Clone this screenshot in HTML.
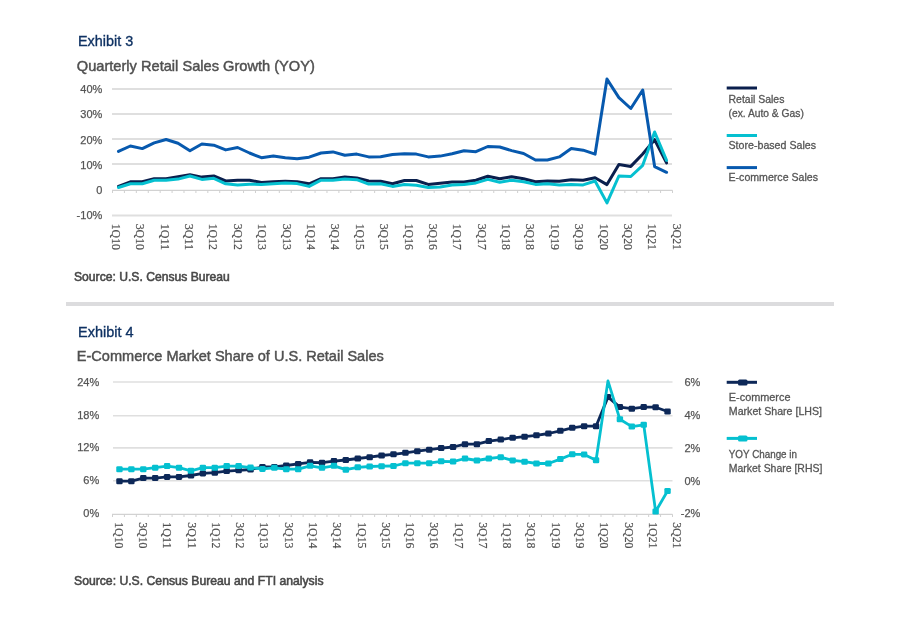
<!DOCTYPE html>
<html><head><meta charset="utf-8"><style>
html,body{margin:0;padding:0;background:#fff;width:900px;height:624px;overflow:hidden}
svg{display:block;will-change:transform}
text{font-family:"Liberation Sans",sans-serif}
.ax{font-size:11px;fill:#555;stroke:#555;stroke-width:0.25px}
.xl{font-family:"Liberation Serif",serif;font-size:12.3px;fill:#505050;stroke:#505050;stroke-width:0.2px}
.ex{font-size:15.3px;fill:#0f3263;stroke:#0f3263;stroke-width:0.35px}
.sub{font-size:14.5px;fill:#505050;stroke:#505050;stroke-width:0.45px}
.src{font-size:12px;fill:#484848;stroke:#484848;stroke-width:0.55px}
.lg{font-size:11px;fill:#555;stroke:#555;stroke-width:0.3px}
</style></head><body>
<svg width="900" height="624" viewBox="0 0 900 624">
<line x1="112" y1="89.00" x2="672" y2="89.00" stroke="#dfdfdf" stroke-width="2"/>
<line x1="112" y1="114.00" x2="672" y2="114.00" stroke="#dfdfdf" stroke-width="2"/>
<line x1="112" y1="139.00" x2="672" y2="139.00" stroke="#dfdfdf" stroke-width="2"/>
<line x1="112" y1="164.00" x2="672" y2="164.00" stroke="#dfdfdf" stroke-width="2"/>
<line x1="112" y1="215.50" x2="672" y2="215.50" stroke="#dfdfdf" stroke-width="2"/>
<line x1="112" y1="190.4" x2="672.5" y2="190.4" stroke="#d2d2d2" stroke-width="1.3"/>
<path d="M112.50 190.3v2.7 M124.41 190.3v2.7 M136.33 190.3v2.7 M148.25 190.3v2.7 M160.16 190.3v2.7 M172.07 190.3v2.7 M183.99 190.3v2.7 M195.91 190.3v2.7 M207.82 190.3v2.7 M219.73 190.3v2.7 M231.65 190.3v2.7 M243.56 190.3v2.7 M255.48 190.3v2.7 M267.39 190.3v2.7 M279.31 190.3v2.7 M291.23 190.3v2.7 M303.14 190.3v2.7 M315.05 190.3v2.7 M326.97 190.3v2.7 M338.88 190.3v2.7 M350.80 190.3v2.7 M362.71 190.3v2.7 M374.63 190.3v2.7 M386.54 190.3v2.7 M398.46 190.3v2.7 M410.38 190.3v2.7 M422.29 190.3v2.7 M434.20 190.3v2.7 M446.12 190.3v2.7 M458.03 190.3v2.7 M469.95 190.3v2.7 M481.86 190.3v2.7 M493.78 190.3v2.7 M505.69 190.3v2.7 M517.61 190.3v2.7 M529.52 190.3v2.7 M541.44 190.3v2.7 M553.36 190.3v2.7 M565.27 190.3v2.7 M577.18 190.3v2.7 M589.10 190.3v2.7 M601.01 190.3v2.7 M612.93 190.3v2.7 M624.84 190.3v2.7 M636.76 190.3v2.7 M648.67 190.3v2.7 M660.59 190.3v2.7 M672.50 190.3v2.7" stroke="#d0d0d0" stroke-width="1" fill="none"/>
<text x="102.3" y="92.90" text-anchor="end" class="ax">40%</text>
<text x="102.3" y="118.20" text-anchor="end" class="ax">30%</text>
<text x="102.3" y="143.50" text-anchor="end" class="ax">20%</text>
<text x="102.3" y="168.80" text-anchor="end" class="ax">10%</text>
<text x="102.3" y="194.10" text-anchor="end" class="ax">0</text>
<text x="102.3" y="219.40" text-anchor="end" class="ax">-10%</text>
<polyline points="118.46,186.40 130.37,181.80 142.29,181.80 154.20,178.70 166.12,178.70 178.03,176.80 189.95,174.80 201.86,177.10 213.78,176.00 225.69,181.00 237.61,180.20 249.52,180.20 261.44,182.50 273.35,181.80 285.27,181.30 297.18,181.80 309.10,183.80 321.01,178.70 332.93,178.70 344.84,177.10 356.76,177.90 368.67,181.00 380.59,181.20 392.50,183.80 404.42,180.50 416.33,180.50 428.25,184.40 440.16,183.30 452.08,182.10 463.99,182.10 475.91,180.20 487.82,176.30 499.74,178.70 511.65,176.80 523.57,178.70 535.48,181.80 547.40,181.00 559.31,181.30 571.23,179.70 583.14,180.20 595.06,177.80 606.97,184.60 618.89,164.60 630.80,166.40 642.72,154.00 654.63,139.70 666.55,162.90" fill="none" stroke="#0a1f4d" stroke-width="3" stroke-linejoin="round" stroke-linecap="round"/>
<polyline points="118.46,187.50 130.37,183.80 142.29,183.80 154.20,180.20 166.12,180.20 178.03,179.10 189.95,176.00 201.86,179.40 213.78,178.30 225.69,183.80 237.61,184.90 249.52,184.30 261.44,184.40 273.35,183.80 285.27,183.00 297.18,183.60 309.10,186.40 321.01,180.20 332.93,180.20 344.84,179.10 356.76,179.70 368.67,184.10 380.59,183.80 392.50,186.40 404.42,184.60 416.33,185.20 428.25,187.50 440.16,186.90 452.08,184.90 463.99,184.60 475.91,182.90 487.82,179.40 499.74,182.20 511.65,180.20 523.57,181.80 535.48,184.40 547.40,183.80 559.31,184.90 571.23,184.40 583.14,184.90 595.06,181.00 606.97,202.90 618.89,176.00 630.80,176.50 642.72,165.30 654.63,132.00 666.55,160.30" fill="none" stroke="#05c0d0" stroke-width="3" stroke-linejoin="round" stroke-linecap="round"/>
<polyline points="118.46,151.40 130.37,146.00 142.29,148.60 154.20,142.90 166.12,139.50 178.03,143.20 189.95,150.70 201.86,144.00 213.78,145.20 225.69,149.90 237.61,147.50 249.52,153.00 261.44,157.70 273.35,156.10 285.27,157.70 297.18,158.70 309.10,157.20 321.01,153.00 332.93,151.90 344.84,155.30 356.76,154.10 368.67,156.90 380.59,156.70 392.50,154.50 404.42,153.80 416.33,154.10 428.25,156.90 440.16,156.10 452.08,153.80 463.99,150.70 475.91,151.70 487.82,146.50 499.74,147.00 511.65,150.60 523.57,153.50 535.48,160.00 547.40,160.00 559.31,156.90 571.23,148.60 583.14,150.20 595.06,154.20 606.97,79.10 618.89,97.60 630.80,108.50 642.72,90.00 654.63,166.60 666.55,172.30" fill="none" stroke="#0759ae" stroke-width="3" stroke-linejoin="round" stroke-linecap="round"/>
<text transform="translate(111.80,223.7) rotate(90)" class="xl" textLength="26.3" lengthAdjust="spacingAndGlyphs">1Q10</text>
<text transform="translate(136.19,223.7) rotate(90)" class="xl" textLength="26.3" lengthAdjust="spacingAndGlyphs">3Q10</text>
<text transform="translate(160.58,223.7) rotate(90)" class="xl" textLength="26.3" lengthAdjust="spacingAndGlyphs">1Q11</text>
<text transform="translate(184.98,223.7) rotate(90)" class="xl" textLength="26.3" lengthAdjust="spacingAndGlyphs">3Q11</text>
<text transform="translate(209.37,223.7) rotate(90)" class="xl" textLength="26.3" lengthAdjust="spacingAndGlyphs">1Q12</text>
<text transform="translate(233.76,223.7) rotate(90)" class="xl" textLength="26.3" lengthAdjust="spacingAndGlyphs">3Q12</text>
<text transform="translate(258.15,223.7) rotate(90)" class="xl" textLength="26.3" lengthAdjust="spacingAndGlyphs">1Q13</text>
<text transform="translate(282.54,223.7) rotate(90)" class="xl" textLength="26.3" lengthAdjust="spacingAndGlyphs">3Q13</text>
<text transform="translate(306.94,223.7) rotate(90)" class="xl" textLength="26.3" lengthAdjust="spacingAndGlyphs">1Q14</text>
<text transform="translate(331.33,223.7) rotate(90)" class="xl" textLength="26.3" lengthAdjust="spacingAndGlyphs">3Q14</text>
<text transform="translate(355.72,223.7) rotate(90)" class="xl" textLength="26.3" lengthAdjust="spacingAndGlyphs">1Q15</text>
<text transform="translate(380.11,223.7) rotate(90)" class="xl" textLength="26.3" lengthAdjust="spacingAndGlyphs">3Q15</text>
<text transform="translate(404.50,223.7) rotate(90)" class="xl" textLength="26.3" lengthAdjust="spacingAndGlyphs">1Q16</text>
<text transform="translate(428.90,223.7) rotate(90)" class="xl" textLength="26.3" lengthAdjust="spacingAndGlyphs">3Q16</text>
<text transform="translate(453.29,223.7) rotate(90)" class="xl" textLength="26.3" lengthAdjust="spacingAndGlyphs">1Q17</text>
<text transform="translate(477.68,223.7) rotate(90)" class="xl" textLength="26.3" lengthAdjust="spacingAndGlyphs">3Q17</text>
<text transform="translate(502.07,223.7) rotate(90)" class="xl" textLength="26.3" lengthAdjust="spacingAndGlyphs">1Q18</text>
<text transform="translate(526.46,223.7) rotate(90)" class="xl" textLength="26.3" lengthAdjust="spacingAndGlyphs">3Q18</text>
<text transform="translate(550.86,223.7) rotate(90)" class="xl" textLength="26.3" lengthAdjust="spacingAndGlyphs">1Q19</text>
<text transform="translate(575.25,223.7) rotate(90)" class="xl" textLength="26.3" lengthAdjust="spacingAndGlyphs">3Q19</text>
<text transform="translate(599.64,223.7) rotate(90)" class="xl" textLength="26.3" lengthAdjust="spacingAndGlyphs">1Q20</text>
<text transform="translate(624.03,223.7) rotate(90)" class="xl" textLength="26.3" lengthAdjust="spacingAndGlyphs">3Q20</text>
<text transform="translate(648.42,223.7) rotate(90)" class="xl" textLength="26.3" lengthAdjust="spacingAndGlyphs">1Q21</text>
<text transform="translate(672.82,223.7) rotate(90)" class="xl" textLength="26.3" lengthAdjust="spacingAndGlyphs">3Q21</text>
<line x1="113" y1="382.00" x2="672.5" y2="382.00" stroke="#dfdfdf" stroke-width="1.6"/>
<line x1="113" y1="415.80" x2="672.5" y2="415.80" stroke="#dfdfdf" stroke-width="1.6"/>
<line x1="113" y1="447.90" x2="672.5" y2="447.90" stroke="#dfdfdf" stroke-width="1.6"/>
<line x1="113" y1="480.70" x2="672.5" y2="480.70" stroke="#dfdfdf" stroke-width="1.6"/>
<line x1="112" y1="514.4" x2="672.5" y2="514.4" stroke="#d2d2d2" stroke-width="1.3"/>
<path d="M112.50 514.3v2.7 M124.41 514.3v2.7 M136.33 514.3v2.7 M148.25 514.3v2.7 M160.16 514.3v2.7 M172.07 514.3v2.7 M183.99 514.3v2.7 M195.91 514.3v2.7 M207.82 514.3v2.7 M219.73 514.3v2.7 M231.65 514.3v2.7 M243.56 514.3v2.7 M255.48 514.3v2.7 M267.39 514.3v2.7 M279.31 514.3v2.7 M291.23 514.3v2.7 M303.14 514.3v2.7 M315.05 514.3v2.7 M326.97 514.3v2.7 M338.88 514.3v2.7 M350.80 514.3v2.7 M362.71 514.3v2.7 M374.63 514.3v2.7 M386.54 514.3v2.7 M398.46 514.3v2.7 M410.38 514.3v2.7 M422.29 514.3v2.7 M434.20 514.3v2.7 M446.12 514.3v2.7 M458.03 514.3v2.7 M469.95 514.3v2.7 M481.86 514.3v2.7 M493.78 514.3v2.7 M505.69 514.3v2.7 M517.61 514.3v2.7 M529.52 514.3v2.7 M541.44 514.3v2.7 M553.36 514.3v2.7 M565.27 514.3v2.7 M577.18 514.3v2.7 M589.10 514.3v2.7 M601.01 514.3v2.7 M612.93 514.3v2.7 M624.84 514.3v2.7 M636.76 514.3v2.7 M648.67 514.3v2.7 M660.59 514.3v2.7 M672.50 514.3v2.7" stroke="#d0d0d0" stroke-width="1" fill="none"/>
<text x="99.2" y="386.00" text-anchor="end" class="ax">24%</text>
<text x="99.2" y="419.20" text-anchor="end" class="ax">18%</text>
<text x="99.2" y="451.30" text-anchor="end" class="ax">12%</text>
<text x="99.2" y="484.30" text-anchor="end" class="ax">6%</text>
<text x="99.2" y="517.40" text-anchor="end" class="ax">0%</text>
<text x="700.3" y="386.00" text-anchor="end" class="ax">6%</text>
<text x="700.3" y="419.20" text-anchor="end" class="ax">4%</text>
<text x="700.3" y="451.50" text-anchor="end" class="ax">2%</text>
<text x="700.3" y="484.50" text-anchor="end" class="ax">0%</text>
<text x="700.3" y="517.30" text-anchor="end" class="ax">-2%</text>
<polyline points="119.46,481.20 131.37,481.20 143.29,478.10 155.20,478.10 167.12,476.90 179.03,476.90 190.95,475.50 202.86,473.40 214.78,472.70 226.69,471.10 238.61,470.30 250.52,469.50 262.44,467.00 274.35,467.00 286.27,465.50 298.18,463.90 310.10,462.30 322.01,462.70 333.93,461.10 345.84,460.00 357.76,458.50 369.67,457.20 381.59,455.50 393.50,454.30 405.42,452.80 417.33,451.20 429.25,449.70 441.16,448.10 453.08,447.00 464.99,444.20 476.91,444.20 488.82,441.10 500.74,439.60 512.65,437.80 524.57,436.70 536.48,435.30 548.40,433.50 560.31,430.80 572.23,427.80 584.14,426.20 596.06,426.20 607.97,397.10 619.89,407.10 631.80,408.70 643.72,407.10 655.63,407.20 667.55,411.50" fill="none" stroke="#0d2858" stroke-width="2.8" stroke-linejoin="round"/>
<rect x="116.26" y="478.20" width="6.4" height="6" rx="1.3" fill="#0d2858"/><rect x="128.17" y="478.20" width="6.4" height="6" rx="1.3" fill="#0d2858"/><rect x="140.09" y="475.10" width="6.4" height="6" rx="1.3" fill="#0d2858"/><rect x="152.00" y="475.10" width="6.4" height="6" rx="1.3" fill="#0d2858"/><rect x="163.92" y="473.90" width="6.4" height="6" rx="1.3" fill="#0d2858"/><rect x="175.83" y="473.90" width="6.4" height="6" rx="1.3" fill="#0d2858"/><rect x="187.75" y="472.50" width="6.4" height="6" rx="1.3" fill="#0d2858"/><rect x="199.66" y="470.40" width="6.4" height="6" rx="1.3" fill="#0d2858"/><rect x="211.58" y="469.70" width="6.4" height="6" rx="1.3" fill="#0d2858"/><rect x="223.49" y="468.10" width="6.4" height="6" rx="1.3" fill="#0d2858"/><rect x="235.41" y="467.30" width="6.4" height="6" rx="1.3" fill="#0d2858"/><rect x="247.32" y="466.50" width="6.4" height="6" rx="1.3" fill="#0d2858"/><rect x="259.24" y="464.00" width="6.4" height="6" rx="1.3" fill="#0d2858"/><rect x="271.15" y="464.00" width="6.4" height="6" rx="1.3" fill="#0d2858"/><rect x="283.07" y="462.50" width="6.4" height="6" rx="1.3" fill="#0d2858"/><rect x="294.98" y="460.90" width="6.4" height="6" rx="1.3" fill="#0d2858"/><rect x="306.90" y="459.30" width="6.4" height="6" rx="1.3" fill="#0d2858"/><rect x="318.81" y="459.70" width="6.4" height="6" rx="1.3" fill="#0d2858"/><rect x="330.73" y="458.10" width="6.4" height="6" rx="1.3" fill="#0d2858"/><rect x="342.64" y="457.00" width="6.4" height="6" rx="1.3" fill="#0d2858"/><rect x="354.56" y="455.50" width="6.4" height="6" rx="1.3" fill="#0d2858"/><rect x="366.47" y="454.20" width="6.4" height="6" rx="1.3" fill="#0d2858"/><rect x="378.39" y="452.50" width="6.4" height="6" rx="1.3" fill="#0d2858"/><rect x="390.30" y="451.30" width="6.4" height="6" rx="1.3" fill="#0d2858"/><rect x="402.22" y="449.80" width="6.4" height="6" rx="1.3" fill="#0d2858"/><rect x="414.13" y="448.20" width="6.4" height="6" rx="1.3" fill="#0d2858"/><rect x="426.05" y="446.70" width="6.4" height="6" rx="1.3" fill="#0d2858"/><rect x="437.96" y="445.10" width="6.4" height="6" rx="1.3" fill="#0d2858"/><rect x="449.88" y="444.00" width="6.4" height="6" rx="1.3" fill="#0d2858"/><rect x="461.79" y="441.20" width="6.4" height="6" rx="1.3" fill="#0d2858"/><rect x="473.71" y="441.20" width="6.4" height="6" rx="1.3" fill="#0d2858"/><rect x="485.62" y="438.10" width="6.4" height="6" rx="1.3" fill="#0d2858"/><rect x="497.54" y="436.60" width="6.4" height="6" rx="1.3" fill="#0d2858"/><rect x="509.45" y="434.80" width="6.4" height="6" rx="1.3" fill="#0d2858"/><rect x="521.37" y="433.70" width="6.4" height="6" rx="1.3" fill="#0d2858"/><rect x="533.28" y="432.30" width="6.4" height="6" rx="1.3" fill="#0d2858"/><rect x="545.20" y="430.50" width="6.4" height="6" rx="1.3" fill="#0d2858"/><rect x="557.11" y="427.80" width="6.4" height="6" rx="1.3" fill="#0d2858"/><rect x="569.03" y="424.80" width="6.4" height="6" rx="1.3" fill="#0d2858"/><rect x="580.94" y="423.20" width="6.4" height="6" rx="1.3" fill="#0d2858"/><rect x="592.86" y="423.20" width="6.4" height="6" rx="1.3" fill="#0d2858"/><rect x="604.77" y="394.10" width="6.4" height="6" rx="1.3" fill="#0d2858"/><rect x="616.69" y="404.10" width="6.4" height="6" rx="1.3" fill="#0d2858"/><rect x="628.60" y="405.70" width="6.4" height="6" rx="1.3" fill="#0d2858"/><rect x="640.52" y="404.10" width="6.4" height="6" rx="1.3" fill="#0d2858"/><rect x="652.43" y="404.20" width="6.4" height="6" rx="1.3" fill="#0d2858"/><rect x="664.35" y="408.50" width="6.4" height="6" rx="1.3" fill="#0d2858"/>
<polyline points="119.46,469.20 131.37,469.20 143.29,469.20 155.20,467.70 167.12,466.10 179.03,467.70 190.95,470.80 202.86,467.70 214.78,467.70 226.69,466.10 238.61,466.10 250.52,467.60 262.44,468.90 274.35,467.80 286.27,469.20 298.18,469.20 310.10,465.80 322.01,467.80 333.93,465.80 345.84,469.70 357.76,467.30 369.67,466.50 381.59,466.20 393.50,466.00 405.42,463.20 417.33,463.20 429.25,463.20 441.16,461.30 453.08,461.60 464.99,458.50 476.91,460.50 488.82,458.50 500.74,457.20 512.65,460.40 524.57,461.70 536.48,463.50 548.40,463.50 560.31,459.10 572.23,454.30 584.14,454.40 596.06,460.30 607.97,380.90 619.89,419.30 631.80,426.60 643.72,424.80 655.63,511.50 667.55,491.00" fill="none" stroke="#05c0d0" stroke-width="2.8" stroke-linejoin="round"/>
<rect x="116.26" y="466.20" width="6.4" height="6" rx="1.3" fill="#05c0d0"/><rect x="128.17" y="466.20" width="6.4" height="6" rx="1.3" fill="#05c0d0"/><rect x="140.09" y="466.20" width="6.4" height="6" rx="1.3" fill="#05c0d0"/><rect x="152.00" y="464.70" width="6.4" height="6" rx="1.3" fill="#05c0d0"/><rect x="163.92" y="463.10" width="6.4" height="6" rx="1.3" fill="#05c0d0"/><rect x="175.83" y="464.70" width="6.4" height="6" rx="1.3" fill="#05c0d0"/><rect x="187.75" y="467.80" width="6.4" height="6" rx="1.3" fill="#05c0d0"/><rect x="199.66" y="464.70" width="6.4" height="6" rx="1.3" fill="#05c0d0"/><rect x="211.58" y="464.70" width="6.4" height="6" rx="1.3" fill="#05c0d0"/><rect x="223.49" y="463.10" width="6.4" height="6" rx="1.3" fill="#05c0d0"/><rect x="235.41" y="463.10" width="6.4" height="6" rx="1.3" fill="#05c0d0"/><rect x="247.32" y="464.60" width="6.4" height="6" rx="1.3" fill="#05c0d0"/><rect x="259.24" y="465.90" width="6.4" height="6" rx="1.3" fill="#05c0d0"/><rect x="271.15" y="464.80" width="6.4" height="6" rx="1.3" fill="#05c0d0"/><rect x="283.07" y="466.20" width="6.4" height="6" rx="1.3" fill="#05c0d0"/><rect x="294.98" y="466.20" width="6.4" height="6" rx="1.3" fill="#05c0d0"/><rect x="306.90" y="462.80" width="6.4" height="6" rx="1.3" fill="#05c0d0"/><rect x="318.81" y="464.80" width="6.4" height="6" rx="1.3" fill="#05c0d0"/><rect x="330.73" y="462.80" width="6.4" height="6" rx="1.3" fill="#05c0d0"/><rect x="342.64" y="466.70" width="6.4" height="6" rx="1.3" fill="#05c0d0"/><rect x="354.56" y="464.30" width="6.4" height="6" rx="1.3" fill="#05c0d0"/><rect x="366.47" y="463.50" width="6.4" height="6" rx="1.3" fill="#05c0d0"/><rect x="378.39" y="463.20" width="6.4" height="6" rx="1.3" fill="#05c0d0"/><rect x="390.30" y="463.00" width="6.4" height="6" rx="1.3" fill="#05c0d0"/><rect x="402.22" y="460.20" width="6.4" height="6" rx="1.3" fill="#05c0d0"/><rect x="414.13" y="460.20" width="6.4" height="6" rx="1.3" fill="#05c0d0"/><rect x="426.05" y="460.20" width="6.4" height="6" rx="1.3" fill="#05c0d0"/><rect x="437.96" y="458.30" width="6.4" height="6" rx="1.3" fill="#05c0d0"/><rect x="449.88" y="458.60" width="6.4" height="6" rx="1.3" fill="#05c0d0"/><rect x="461.79" y="455.50" width="6.4" height="6" rx="1.3" fill="#05c0d0"/><rect x="473.71" y="457.50" width="6.4" height="6" rx="1.3" fill="#05c0d0"/><rect x="485.62" y="455.50" width="6.4" height="6" rx="1.3" fill="#05c0d0"/><rect x="497.54" y="454.20" width="6.4" height="6" rx="1.3" fill="#05c0d0"/><rect x="509.45" y="457.40" width="6.4" height="6" rx="1.3" fill="#05c0d0"/><rect x="521.37" y="458.70" width="6.4" height="6" rx="1.3" fill="#05c0d0"/><rect x="533.28" y="460.50" width="6.4" height="6" rx="1.3" fill="#05c0d0"/><rect x="545.20" y="460.50" width="6.4" height="6" rx="1.3" fill="#05c0d0"/><rect x="557.11" y="456.10" width="6.4" height="6" rx="1.3" fill="#05c0d0"/><rect x="569.03" y="451.30" width="6.4" height="6" rx="1.3" fill="#05c0d0"/><rect x="580.94" y="451.40" width="6.4" height="6" rx="1.3" fill="#05c0d0"/><rect x="592.86" y="457.30" width="6.4" height="6" rx="1.3" fill="#05c0d0"/><rect x="616.69" y="416.30" width="6.4" height="6" rx="1.3" fill="#05c0d0"/><rect x="628.60" y="423.60" width="6.4" height="6" rx="1.3" fill="#05c0d0"/><rect x="640.52" y="421.80" width="6.4" height="6" rx="1.3" fill="#05c0d0"/><rect x="652.43" y="508.50" width="6.4" height="6" rx="1.3" fill="#05c0d0"/><rect x="664.35" y="488.00" width="6.4" height="6" rx="1.3" fill="#05c0d0"/>
<text transform="translate(114.70,522.2) rotate(90)" class="xl" textLength="26.3" lengthAdjust="spacingAndGlyphs">1Q10</text>
<text transform="translate(138.98,522.2) rotate(90)" class="xl" textLength="26.3" lengthAdjust="spacingAndGlyphs">3Q10</text>
<text transform="translate(163.26,522.2) rotate(90)" class="xl" textLength="26.3" lengthAdjust="spacingAndGlyphs">1Q11</text>
<text transform="translate(187.54,522.2) rotate(90)" class="xl" textLength="26.3" lengthAdjust="spacingAndGlyphs">3Q11</text>
<text transform="translate(211.82,522.2) rotate(90)" class="xl" textLength="26.3" lengthAdjust="spacingAndGlyphs">1Q12</text>
<text transform="translate(236.10,522.2) rotate(90)" class="xl" textLength="26.3" lengthAdjust="spacingAndGlyphs">3Q12</text>
<text transform="translate(260.38,522.2) rotate(90)" class="xl" textLength="26.3" lengthAdjust="spacingAndGlyphs">1Q13</text>
<text transform="translate(284.66,522.2) rotate(90)" class="xl" textLength="26.3" lengthAdjust="spacingAndGlyphs">3Q13</text>
<text transform="translate(308.94,522.2) rotate(90)" class="xl" textLength="26.3" lengthAdjust="spacingAndGlyphs">1Q14</text>
<text transform="translate(333.22,522.2) rotate(90)" class="xl" textLength="26.3" lengthAdjust="spacingAndGlyphs">3Q14</text>
<text transform="translate(357.50,522.2) rotate(90)" class="xl" textLength="26.3" lengthAdjust="spacingAndGlyphs">1Q15</text>
<text transform="translate(381.78,522.2) rotate(90)" class="xl" textLength="26.3" lengthAdjust="spacingAndGlyphs">3Q15</text>
<text transform="translate(406.06,522.2) rotate(90)" class="xl" textLength="26.3" lengthAdjust="spacingAndGlyphs">1Q16</text>
<text transform="translate(430.34,522.2) rotate(90)" class="xl" textLength="26.3" lengthAdjust="spacingAndGlyphs">3Q16</text>
<text transform="translate(454.62,522.2) rotate(90)" class="xl" textLength="26.3" lengthAdjust="spacingAndGlyphs">1Q17</text>
<text transform="translate(478.90,522.2) rotate(90)" class="xl" textLength="26.3" lengthAdjust="spacingAndGlyphs">3Q17</text>
<text transform="translate(503.18,522.2) rotate(90)" class="xl" textLength="26.3" lengthAdjust="spacingAndGlyphs">1Q18</text>
<text transform="translate(527.46,522.2) rotate(90)" class="xl" textLength="26.3" lengthAdjust="spacingAndGlyphs">3Q18</text>
<text transform="translate(551.74,522.2) rotate(90)" class="xl" textLength="26.3" lengthAdjust="spacingAndGlyphs">1Q19</text>
<text transform="translate(576.02,522.2) rotate(90)" class="xl" textLength="26.3" lengthAdjust="spacingAndGlyphs">3Q19</text>
<text transform="translate(600.30,522.2) rotate(90)" class="xl" textLength="26.3" lengthAdjust="spacingAndGlyphs">1Q20</text>
<text transform="translate(624.58,522.2) rotate(90)" class="xl" textLength="26.3" lengthAdjust="spacingAndGlyphs">3Q20</text>
<text transform="translate(648.86,522.2) rotate(90)" class="xl" textLength="26.3" lengthAdjust="spacingAndGlyphs">1Q21</text>
<text transform="translate(673.14,522.2) rotate(90)" class="xl" textLength="26.3" lengthAdjust="spacingAndGlyphs">3Q21</text>
<text x="78" y="46.1" class="ex" textLength="55.2" lengthAdjust="spacingAndGlyphs">Exhibit 3</text>
<text x="76.8" y="71.2" class="sub" textLength="238" lengthAdjust="spacingAndGlyphs">Quarterly Retail Sales Growth (YOY)</text>
<text x="74" y="281" class="src" textLength="155.8" lengthAdjust="spacingAndGlyphs">Source: U.S. Census Bureau</text>
<rect x="66" y="302" width="768" height="4" fill="#dcdcde"/>
<text x="78" y="336.8" class="ex" textLength="55.5" lengthAdjust="spacingAndGlyphs">Exhibit 4</text>
<text x="76.8" y="361" class="sub" textLength="307" lengthAdjust="spacingAndGlyphs">E-Commerce Market Share of U.S. Retail Sales</text>
<text x="74" y="584.8" class="src" textLength="249.5" lengthAdjust="spacingAndGlyphs">Source: U.S. Census Bureau and FTI analysis</text>
<line x1="726.7" y1="88" x2="757" y2="88" stroke="#0a1f4d" stroke-width="3"/>
<text x="728.5" y="102.9" class="lg" textLength="55.9" lengthAdjust="spacingAndGlyphs">Retail Sales</text>
<text x="728.5" y="117" class="lg" textLength="75.3" lengthAdjust="spacingAndGlyphs">(ex. Auto &amp; Gas)</text>
<line x1="726.7" y1="135.5" x2="757" y2="135.5" stroke="#05c0d0" stroke-width="3"/>
<text x="728.5" y="148.8" class="lg" textLength="87.5" lengthAdjust="spacingAndGlyphs">Store-based Sales</text>
<line x1="726.7" y1="167.6" x2="757" y2="167.6" stroke="#0759ae" stroke-width="3"/>
<text x="728.5" y="181.4" class="lg" textLength="89.5" lengthAdjust="spacingAndGlyphs">E-commerce Sales</text>
<line x1="726.7" y1="382.3" x2="757" y2="382.3" stroke="#0d2858" stroke-width="3"/>
<rect x="738" y="379.5" width="9.5" height="6" rx="1.5" fill="#0d2858"/>
<text x="728.8" y="400.9" class="lg" textLength="61.7" lengthAdjust="spacingAndGlyphs">E-commerce</text>
<text x="728.8" y="415" class="lg" textLength="93.2" lengthAdjust="spacingAndGlyphs">Market Share [LHS]</text>
<line x1="726.7" y1="438.4" x2="757" y2="438.4" stroke="#05c0d0" stroke-width="3"/>
<rect x="738" y="435.6" width="9.5" height="6" rx="1.5" fill="#05c0d0"/>
<text x="728.8" y="458.2" class="lg" textLength="68.2" lengthAdjust="spacingAndGlyphs">YOY Change in</text>
<text x="728.8" y="472.3" class="lg" textLength="93.5" lengthAdjust="spacingAndGlyphs">Market Share [RHS]</text>
</svg>
</body></html>
